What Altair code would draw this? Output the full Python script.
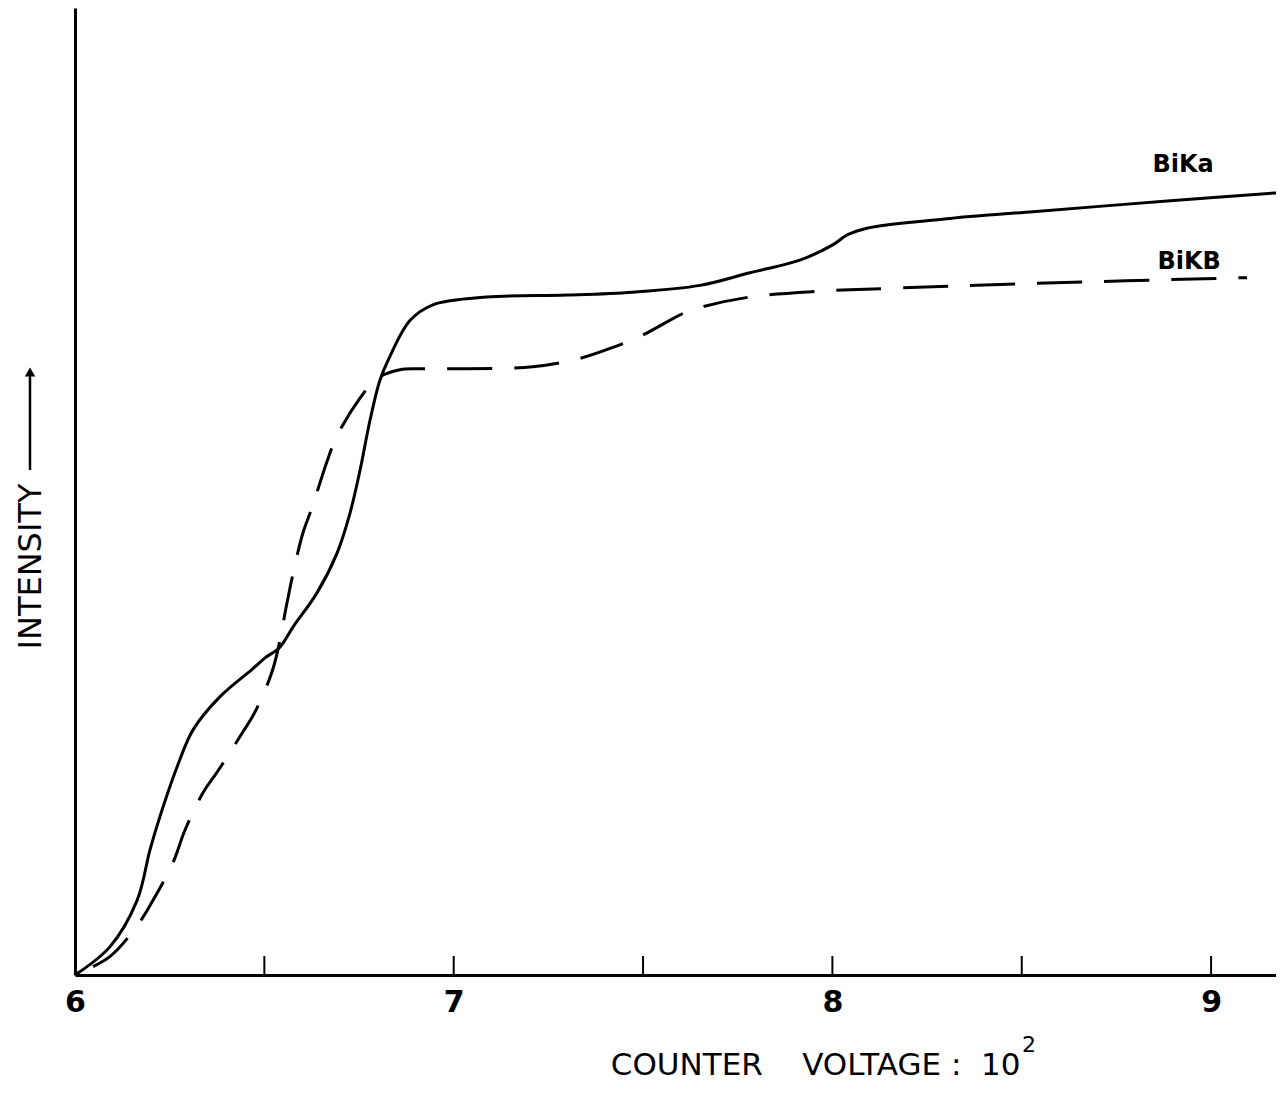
import altair as alt
import pandas as pd

# ---- data (voltage in units of 10^2 V, intensity arbitrary 0-100) ----
ka_voltage = [6.000, 6.092, 6.164, 6.198, 6.224, 6.269, 6.312, 6.383, 6.470, 6.502,
              6.541, 6.576, 6.639, 6.692, 6.726, 6.753, 6.779, 6.805, 6.827, 6.885,
              6.945, 7.088, 7.299, 7.473, 7.650, 7.782, 7.914, 8.002, 8.039, 8.091,
              8.311, 8.530, 8.884, 9.193]
ka_intensity = [0.0, 2.9, 7.7, 12.9, 16.3, 21.4, 25.3, 28.7, 31.6, 32.7,
                33.8, 35.9, 39.4, 43.5, 47.6, 52.1, 57.2, 61.3, 63.4, 67.5,
                69.1, 69.9, 70.1, 70.4, 71.1, 72.4, 73.7, 75.3, 76.3, 77.0,
                78.0, 78.7, 79.8, 80.7]

kb_voltage = [6.000, 6.092, 6.166, 6.203, 6.259, 6.290, 6.338, 6.375, 6.444, 6.475,
              6.523, 6.560, 6.573, 6.602, 6.626, 6.665, 6.692, 6.753, 6.797, 6.858,
              6.911, 7.035, 7.209, 7.326, 7.413, 7.500, 7.605, 7.658, 7.782, 7.967,
              8.152, 8.530, 9.095]
kb_intensity = [0.0, 1.9, 5.2, 7.5, 11.6, 14.9, 18.8, 20.9, 25.1, 27.1,
                31.6, 38.4, 40.9, 45.6, 48.2, 52.9, 55.6, 59.5, 61.5, 62.4,
                62.5, 62.5, 62.7, 63.5, 64.6, 66.0, 68.2, 68.9, 69.9, 70.5,
                70.8, 71.3, 71.9]

tick_values = [6.5, 7.0, 7.5, 8.0, 8.5, 9.0]
label_values = [6, 7, 8, 9]

series_labels = ["BiKa", "BiKB"]
label_voltage = [8.926, 8.942]
label_intensity = [83.5, 73.5]

NB = "\u00a0"
x_title = "COUNTER" + NB * 4 + "VOLTAGE" + NB + ":" + NB * 2 + "10"
x_title_sup = "2"
y_title = "INTENSITY"

FONT = "DejaVu Sans"
W, H = 1201, 967

ka_df = pd.DataFrame({"v": ka_voltage, "i": ka_intensity})
kb_df = pd.DataFrame({"v": kb_voltage, "i": kb_intensity})
tick_df = pd.DataFrame({"v": tick_values, "i": [0.0] * len(tick_values)})
lab_df = pd.DataFrame({"v": label_voltage, "i": label_intensity, "t": series_labels})
one = pd.DataFrame({"a": [0]})
sup_df = pd.DataFrame({"t": [x_title_sup]})

xs = alt.Scale(domain=[6, 9.1714], nice=False, zero=False)
ys = alt.Scale(domain=[0, 99.7], nice=False, zero=True)

x_axis = alt.Axis(values=label_values, format="d", tickSize=0, grid=False,
                  domainColor="black", domainWidth=3, labelFontSize=30,
                  labelFont=FONT, labelFontWeight="bold", labelColor="black",
                  labelPadding=12, labelFlush=False,
                  title=x_title, titleFont=FONT, titleFontSize=31,
                  titleFontWeight="normal", titleColor="black",
                  titleX=945, titleY=90, titleBaseline="middle",
                  titleAlign="right", titleAnchor="start")
y_axis = alt.Axis(ticks=False, labels=False, grid=False, domainColor="black",
                  domainWidth=3, title=y_title, titleFont=FONT,
                  titleFontSize=32, titleFontWeight="normal", titleColor="black",
                  titleAngle=270, titleX=-45, titleY=558,
                  titleBaseline="middle", titleAlign="center")

ka = alt.Chart(ka_df).mark_line(color="black", strokeWidth=3,
                                interpolate="catmull-rom", clip=True).encode(
    x=alt.X("v:Q", scale=xs, axis=x_axis),
    y=alt.Y("i:Q", scale=ys, axis=y_axis),
)
kb = alt.Chart(kb_df).mark_line(color="black", strokeWidth=3,
                                interpolate="catmull-rom", strokeDash=[45, 22],
                                strokeDashOffset=-20, clip=True).encode(
    x=alt.X("v:Q", scale=xs),
    y=alt.Y("i:Q", scale=ys),
)
ticks = alt.Chart(tick_df).mark_rule(color="black", strokeWidth=2).encode(
    x=alt.X("v:Q", scale=xs),
    y=alt.Y("i:Q", scale=ys),
    y2=alt.value(H - 19),
)
labels = alt.Chart(lab_df).mark_text(font=FONT, fontSize=24, fontWeight="bold",
                                     color="black", align="center",
                                     baseline="middle").encode(
    x=alt.X("v:Q", scale=xs),
    y=alt.Y("i:Q", scale=ys),
    text="t:N",
)
# superscript of the x title
sup = alt.Chart(sup_df).mark_text(font=FONT, fontSize=22, color="black",
                                  align="left", baseline="middle").encode(
    x=alt.value(947), y=alt.value(H + 70), text="t:N",
)
# arrow next to the y title
arrow_line = alt.Chart(one).mark_rule(color="black", strokeWidth=2.5).encode(
    x=alt.value(-45), y=alt.value(462), y2=alt.value(368),
)
arrow_head = alt.Chart(one).mark_point(shape="triangle-up", filled=True,
                                       color="black", size=110, opacity=1).encode(
    x=alt.value(-45), y=alt.value(364),
)

chart = alt.layer(ka, kb, ticks, labels, sup, arrow_line, arrow_head).properties(
    width=W, height=H,
    background="white",
    autosize=alt.AutoSizeParams(type="none"),
    padding={"left": 67, "top": 0, "right": 0, "bottom": 108},
).configure_view(strokeWidth=0, strokeOpacity=0)

chart.save("out.html", embed_options={"renderer": "svg", "actions": False})
